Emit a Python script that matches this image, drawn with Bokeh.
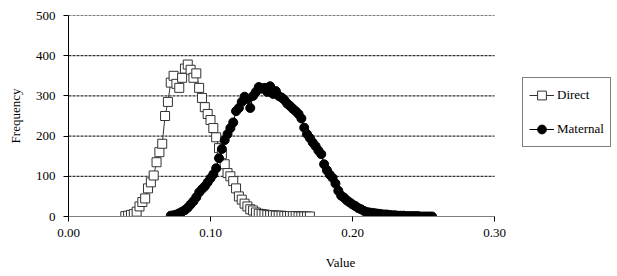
from bokeh.plotting import figure
from bokeh.models import Legend, LegendItem, NumeralTickFormatter, FixedTicker, Range1d
from bokeh.embed import file_html
from bokeh.resources import INLINE

direct_x = [0.040, 0.042, 0.044, 0.046, 0.048, 0.050, 0.052, 0.054, 0.056, 0.058,
            0.060, 0.062, 0.064, 0.066, 0.068, 0.070, 0.072, 0.074, 0.076, 0.078,
            0.080, 0.082, 0.084, 0.086, 0.088, 0.090, 0.092, 0.094, 0.096, 0.098,
            0.100, 0.102, 0.104, 0.106, 0.108, 0.110, 0.112, 0.114, 0.116, 0.118,
            0.120, 0.122, 0.124, 0.126, 0.128, 0.130, 0.132, 0.134, 0.136, 0.138,
            0.140, 0.142, 0.144, 0.146, 0.148, 0.150, 0.152, 0.154, 0.156, 0.158,
            0.160, 0.162, 0.164, 0.166, 0.168, 0.170]
direct_y = [1, 2, 4, 6, 12, 25, 36, 45, 70, 85,
            102, 135, 160, 181, 250, 285, 333, 350, 330, 320,
            345, 368, 378, 365, 345, 356, 320, 295, 272, 255,
            240, 220, 197, 170, 155, 130, 108, 100, 88, 70,
            50, 42, 32, 25, 18, 15, 10, 7, 6, 5,
            4, 3, 3, 2, 2, 2, 1, 1, 1, 1,
            1, 0, 0, 0, 0, 0]

maternal_x = [0.072, 0.074, 0.076, 0.078, 0.080, 0.082, 0.084, 0.086, 0.088, 0.090,
              0.092, 0.094, 0.096, 0.098, 0.100, 0.102, 0.104, 0.106, 0.108, 0.110,
              0.112, 0.114, 0.116, 0.118, 0.120, 0.122, 0.124, 0.126, 0.128, 0.130,
              0.132, 0.134, 0.136, 0.138, 0.140, 0.142, 0.144, 0.146, 0.148, 0.150,
              0.152, 0.154, 0.156, 0.158, 0.160, 0.162, 0.164, 0.166, 0.168, 0.170,
              0.172, 0.174, 0.176, 0.178, 0.180, 0.182, 0.184, 0.186, 0.188, 0.190,
              0.192, 0.194, 0.196, 0.198, 0.200, 0.202, 0.204, 0.206, 0.208, 0.210,
              0.212, 0.214, 0.216, 0.218, 0.220, 0.222, 0.224, 0.226, 0.228, 0.230,
              0.232, 0.234, 0.236, 0.238, 0.240, 0.242, 0.244, 0.246, 0.248, 0.250,
              0.252, 0.254, 0.256]
maternal_y = [2, 3, 5, 8, 12, 16, 22, 30, 38, 48,
              60, 68, 75, 85, 95, 105, 120, 145, 168, 190,
              205, 220, 234, 262, 270, 285, 298, 292, 270, 300,
              310, 322, 318, 320, 310, 324, 305, 312, 300, 296,
              290, 281, 275, 268, 262, 255, 244, 221, 205, 195,
              184, 175, 164, 155, 130, 115, 104, 96, 82, 64,
              52, 47, 40, 35, 30, 26, 21, 18, 14, 11,
              10, 9, 8, 7, 6, 5, 5, 4, 3, 3,
              2, 2, 2, 1, 1, 1, 1, 1, 0, 0,
              0, 0, 0]

x_ticks = [0.0, 0.1, 0.2, 0.3]
y_ticks = [0, 100, 200, 300, 400, 500]
series_names = ["Direct", "Maternal"]

FONT = "Liberation Serif"
FS = "13px"

# plot area 426px wide for 0.00-0.30, frame extended to the right to hold the legend
PLOT_W = 426
FRAME_W = 544
x_end = x_ticks[-1] * FRAME_W / PLOT_W

p = figure(frame_width=FRAME_W, frame_height=201, output_backend="svg", toolbar_location=None,
           x_range=Range1d(x_ticks[0], x_end), y_range=Range1d(y_ticks[0], y_ticks[-1]),
           min_border_left=68, min_border_right=5, min_border_top=15, min_border_bottom=60)
p.outline_line_color = None
p.background_fill_color = "white"
p.xgrid.visible = False
p.ygrid.visible = False

# dashed horizontal gridlines limited to the plot area
n = len(y_ticks) - 1
p.segment(x0=[x_ticks[0]] * n, x1=[x_ticks[-1]] * n, y0=y_ticks[1:], y1=y_ticks[1:],
          line_color="black", line_dash="3 1", line_width=1)

# axes
p.xaxis.ticker = FixedTicker(ticks=x_ticks)
p.xaxis.bounds = (x_ticks[0], x_ticks[-1])
p.xaxis.formatter = NumeralTickFormatter(format="0.00")
p.yaxis.ticker = FixedTicker(ticks=y_ticks)
for ax in (p.xaxis[0], p.yaxis[0]):
    ax.major_label_text_font = FONT
    ax.major_label_text_font_size = FS
    ax.major_label_text_color = "black"
    ax.axis_label_text_font = FONT
    ax.axis_label_text_font_size = FS
    ax.axis_label_text_font_style = "normal"
    ax.axis_label_text_color = "black"
    ax.minor_tick_line_color = None
    ax.major_tick_in = 0
    ax.major_tick_out = 5
p.xaxis.axis_line_color = "#808080"
p.xaxis.major_tick_line_color = "black"
p.yaxis.axis_line_color = "black"
p.yaxis.major_tick_line_color = "black"
p.xaxis.axis_label = "Value"
p.yaxis.axis_label = "Frequency"
p.xaxis.major_label_standoff = 7
p.xaxis.axis_label_standoff = 15
p.yaxis.major_label_standoff = 8
p.yaxis.axis_label_standoff = 10

# series
l1 = p.line(direct_x, direct_y, line_color="#333333", line_width=1)
s1 = p.scatter(direct_x, direct_y, marker="square", size=9, fill_color="white",
               line_color="#333333", line_width=1)
l2 = p.line(maternal_x, maternal_y, line_color="black", line_width=1)
s2 = p.scatter(maternal_x, maternal_y, marker="circle", size=9, fill_color="black",
               line_color="black", line_width=1)

legend = Legend(items=[LegendItem(label=series_names[0], renderers=[l1, s1]),
                       LegendItem(label=series_names[1], renderers=[l2, s2])],
                location=(454, 69))
legend.label_text_font = FONT
legend.label_text_font_size = FS
legend.label_text_color = "black"
legend.border_line_color = "black"
legend.border_line_width = 1
legend.background_fill_color = "white"
legend.background_fill_alpha = 1
legend.padding = 6
legend.spacing = 12
legend.glyph_width = 25
legend.glyph_height = 22
legend.label_height = 22
legend.label_standoff = 3
legend.margin = 0
p.add_layout(legend, "center")

open("out.html", "w").write(file_html(p, INLINE))
